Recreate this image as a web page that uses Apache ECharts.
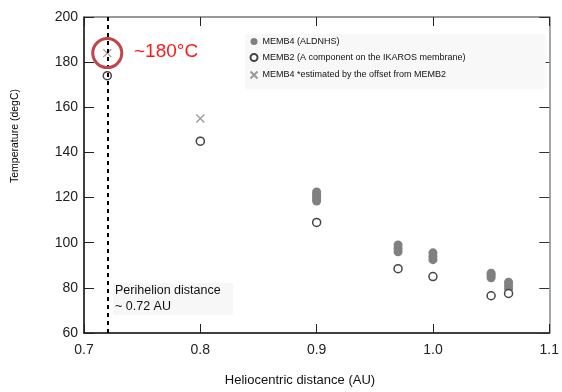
<!DOCTYPE html>
<html>
<head>
<meta charset="utf-8">
<script src="https://cdn.jsdelivr.net/npm/echarts@6/dist/echarts.min.js"></script>
<style>html,body{margin:0;padding:0;background:#fff}#c{width:562px;height:392px}</style>
</head>
<body>
<div id="c"></div>
<script>
// Data
const xTicks = [0.7, 0.8, 0.9, 1.0, 1.1];
const yTicks = [60, 80, 100, 120, 140, 160, 180, 200];
const memb4Aldnhs = [[0.8,145],[0.9,118.5],[0.9,119.5],[0.9,120.5],[0.9,121.5],[0.9,122.5],[0.97,96],[0.97,97.5],[0.97,99],[1.0,92.5],[1.0,94],[1.0,95.5],[1.05,84.5],[1.05,85.5],[1.05,86.5],[1.065,79.5],[1.065,81],[1.065,82.5]];
const memb2 = [[0.72,174],[0.8,145],[0.9,109],[0.97,88.5],[1.0,85],[1.05,76.5],[1.065,77.5]];
const memb4Est = [[0.72,184],[0.8,155]];
const highlight = [[0.72,184]];
const perihelionX = 0.72;
const seriesNames = ['MEMB4 (ALDNHS)', 'MEMB2 (A component on the IKAROS membrane)', 'MEMB4 *estimated by the offset from MEMB2'];

const chart = echarts.init(document.getElementById('c'), null, {renderer:'canvas'});
const font = 'Liberation Sans, Arial, sans-serif';
const crossPath = 'path://M0,0L10,10M10,0L0,10';
chart.setOption({
  animation:false,
  grid:{left:84,right:10,top:17,bottom:59},
  legend:{
    orient:'vertical', left:245, top:34, itemWidth:7, itemHeight:7, itemGap:7,
    backgroundColor:'#f8f8f8', padding:[3,80,8,3],
    data:seriesNames,
    textStyle:{fontFamily:font,fontSize:9,color:'#111'}
  },
  xAxis:[{
    type:'value', min:xTicks[0], max:xTicks[xTicks.length-1], interval:0.1,
    axisLine:{lineStyle:{color:'#000',width:1.5}},
    axisTick:{inside:true,length:9,lineStyle:{color:'#222'}},
    splitLine:{show:false},
    axisLabel:{margin:10,fontFamily:font,fontSize:14,color:'#222',formatter:v=>v.toFixed(1)}
  },{
    type:'value', position:'top', min:0.7, max:1.1, interval:0.1,
    axisLine:{show:true,lineStyle:{color:'#777',width:1.5}},
    axisTick:{inside:true,length:9,lineStyle:{color:'#222'}},
    axisLabel:{show:false}, splitLine:{show:false}
  }],
  yAxis:[{
    type:'value', min:yTicks[0], max:yTicks[yTicks.length-1], interval:20,
    axisLine:{show:true,lineStyle:{color:'#000',width:1.5}},
    axisTick:{show:true,inside:true,length:10,lineStyle:{color:'#222'}},
    splitLine:{show:false},
    axisLabel:{margin:6,fontFamily:font,fontSize:14,color:'#222'}
  },{
    type:'value', position:'right', min:60, max:200, interval:20,
    axisLine:{show:true,lineStyle:{color:'#888',width:1.5}},
    axisTick:{show:true,inside:true,length:10,lineStyle:{color:'#333'}},
    axisLabel:{show:false}, splitLine:{show:false}
  }],
  series:[
    {name:'perihelion', type:'scatter', data:[], silent:true,
     markLine:{silent:true, symbol:'none', label:{show:false},
       lineStyle:{color:'#000',width:2,type:[4,4]},
       data:[{xAxis:perihelionX}]}},
    {name:seriesNames[0], type:'scatter', data:memb4Aldnhs, symbol:'circle', symbolSize:9,
     itemStyle:{color:'#808080',opacity:1}},
    {name:seriesNames[1], type:'scatter', data:memb2, symbol:'circle', symbolSize:8,
     itemStyle:{color:'#fff',borderColor:'#444',borderWidth:1.5,opacity:1}},
    {name:seriesNames[2], type:'scatter', data:memb4Est, symbol:crossPath, symbolSize:8,
     itemStyle:{color:'none',borderColor:'#999',borderWidth:1.3,opacity:1}},
    {name:'highlight', type:'scatter', data:highlight, symbol:'circle', symbolSize:29, silent:true,
     itemStyle:{color:'rgba(0,0,0,0)',borderColor:'#c0454a',borderWidth:3,opacity:1}, z:5}
  ],
  graphic:[
    {type:'text', left:134, top:42, style:{text:'~180°C', fill:'#ff1a1a', font:'19px '+font}},
    {type:'rect', shape:{x:113,y:283,width:120,height:32}, style:{fill:'#f7f7f7'}, z:-1},
    {type:'text', left:115, top:284, style:{text:'Perihelion distance', fill:'#111', font:'12.5px '+font}},
    {type:'text', left:115, top:300, style:{text:'~ 0.72 AU', fill:'#111', font:'12.5px '+font}},
    {type:'text', x:300, y:380, style:{text:'Heliocentric distance (AU)', fill:'#111', font:'13px '+font, align:'center', verticalAlign:'middle'}},
    {type:'text', x:15, y:136, rotation:Math.PI/2, style:{text:'Temperature (degC)', fill:'#000', font:'10.5px '+font, align:'center', verticalAlign:'middle'}}
  ]
});
</script>
</body>
</html>
